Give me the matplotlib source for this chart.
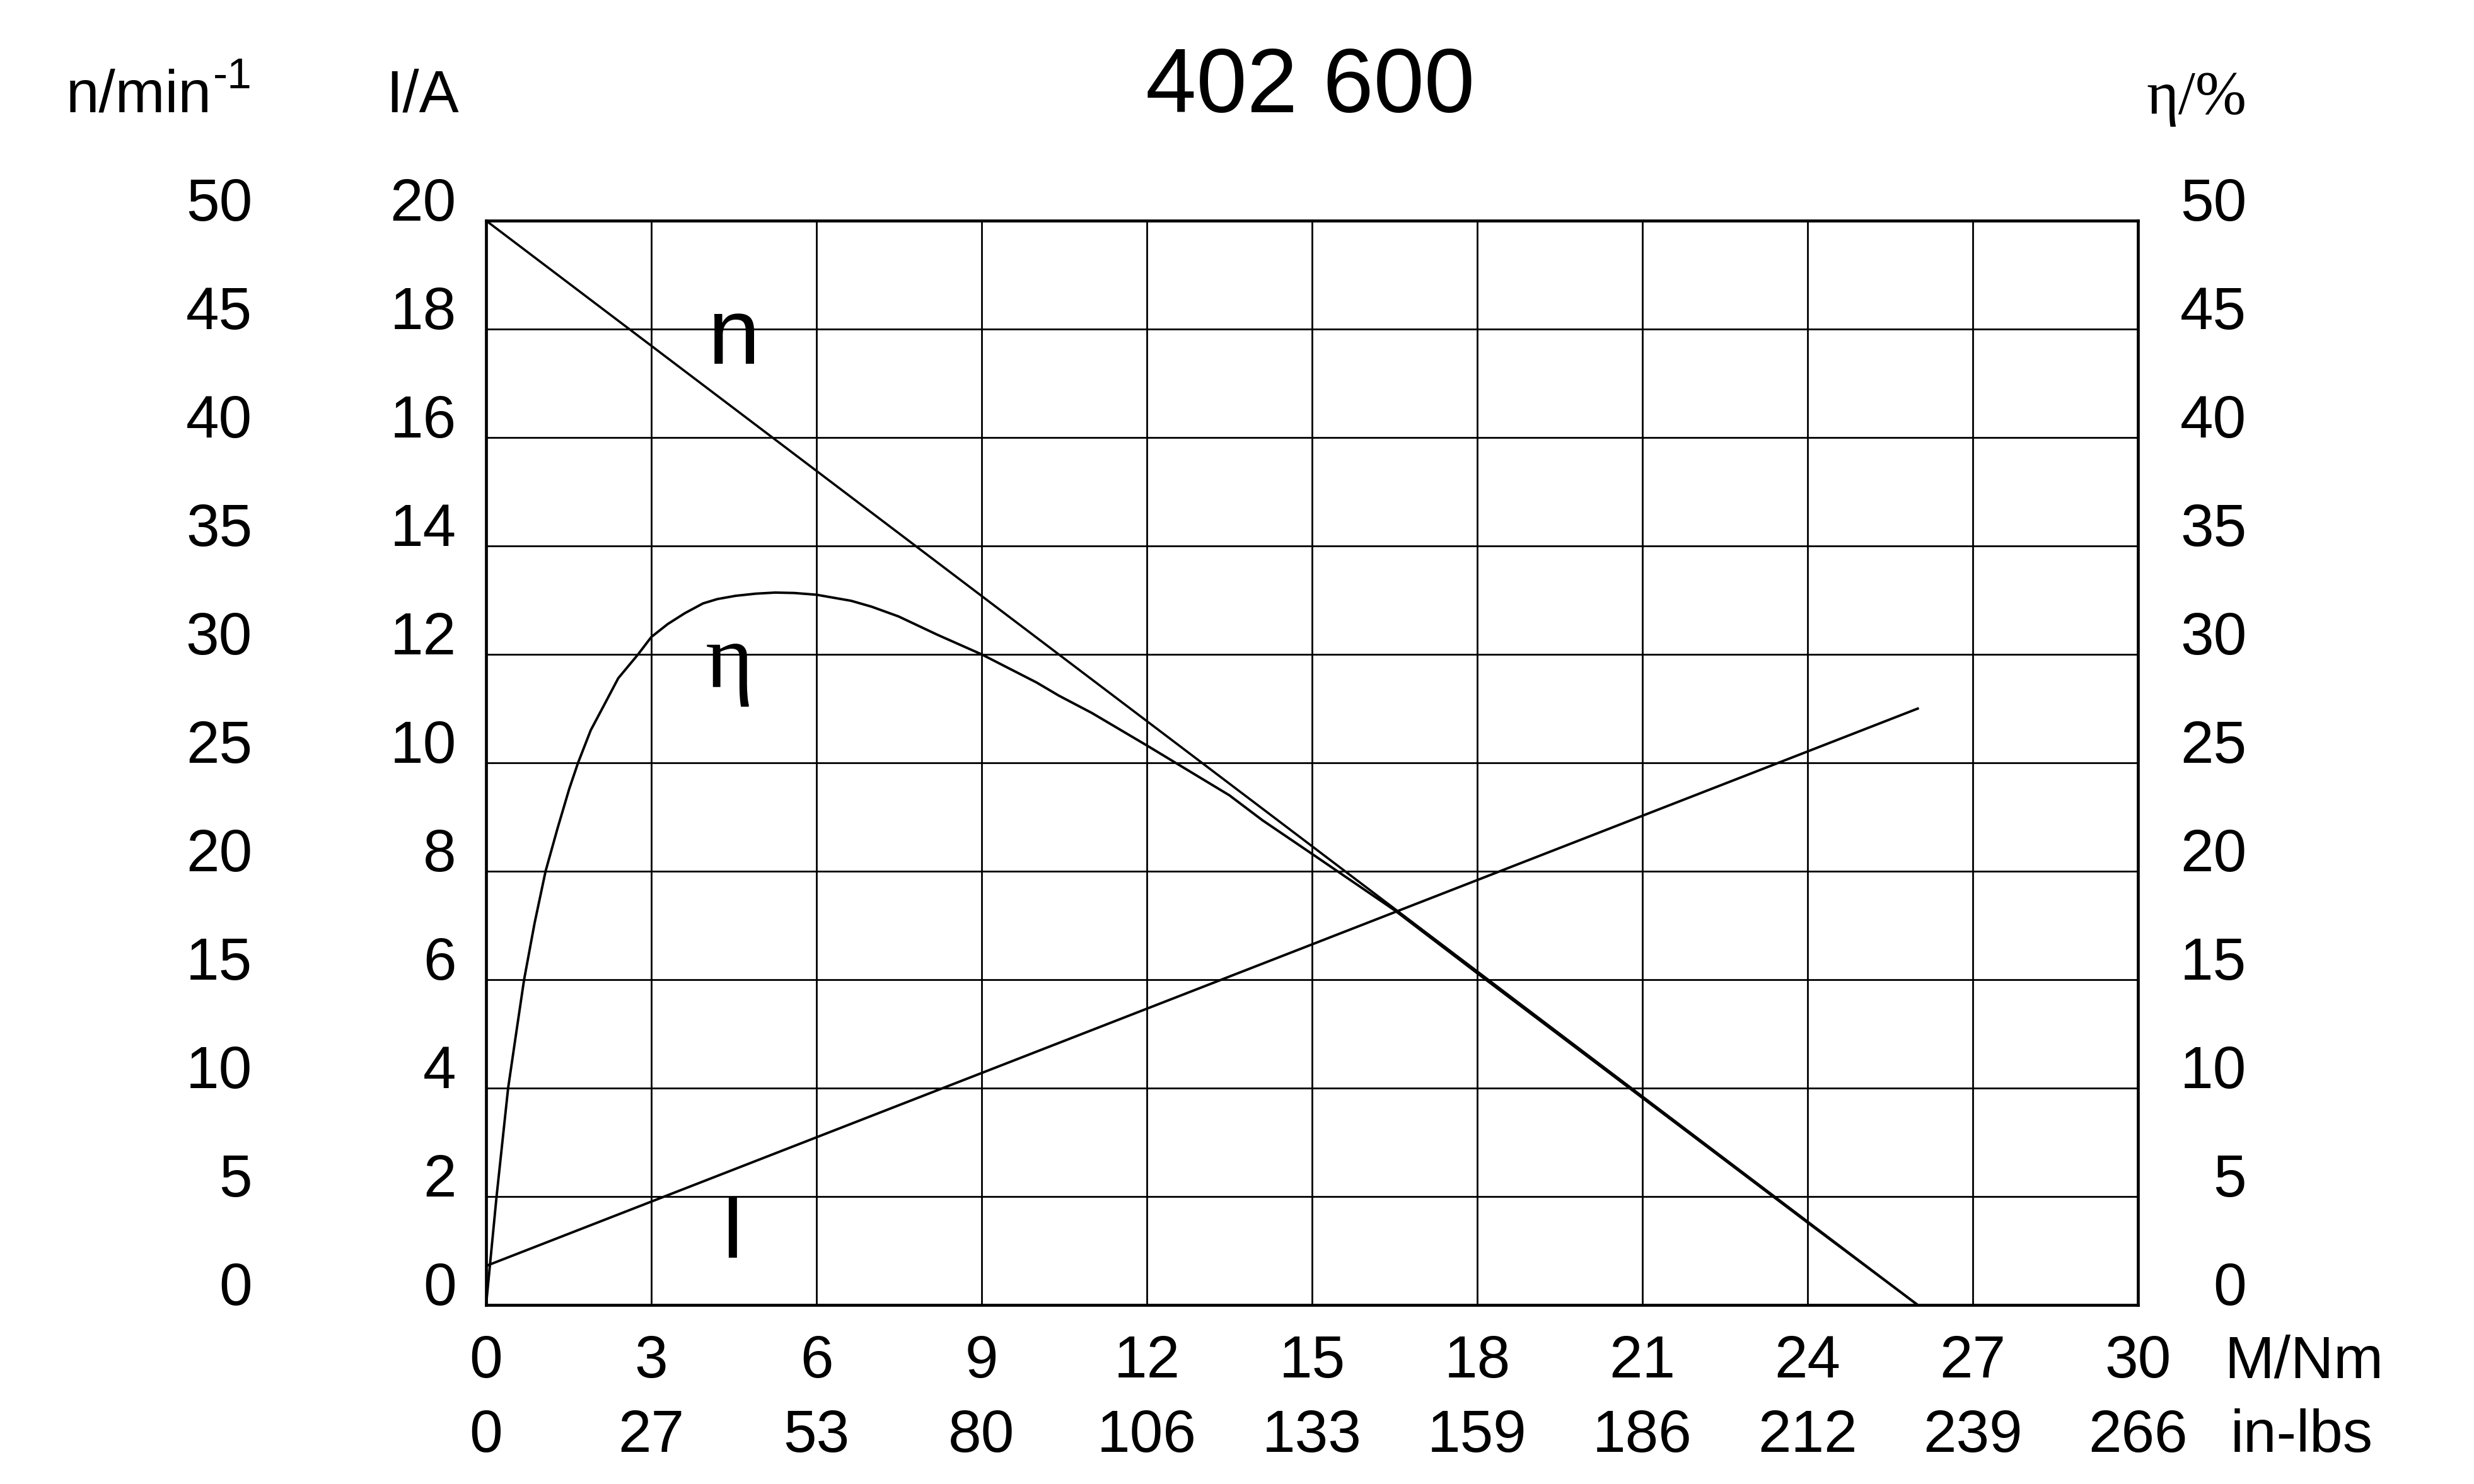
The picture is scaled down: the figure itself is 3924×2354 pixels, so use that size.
import matplotlib.pyplot as plt

plt.rcParams['font.family'] = ['Liberation Sans', 'DejaVu Sans']

# torque axis (Nm) and the matching in-lbs labels
torque_ticks = [0, 3, 6, 9, 12, 15, 18, 21, 24, 27, 30]
inlbs_labels = ["0", "27", "53", "80", "106", "133", "159", "186", "212", "239", "266"]
speed_ticks = [0, 5, 10, 15, 20, 25, 30, 35, 40, 45, 50]
current_ticks = [0, 2, 4, 6, 8, 10, 12, 14, 16, 18, 20]
eff_ticks = [0, 5, 10, 15, 20, 25, 30, 35, 40, 45, 50]

# speed line n (0..50 scale)
n_M = [0, 26]
n_vals = [50, 0]

# current line I (A)
I_M = [0, 26]
I_vals = [0.72, 11.0]

# efficiency curve eta (%)
eta_M = [0, 0.19, 0.40, 0.55, 0.69, 0.88, 1.08, 1.3, 1.51, 1.67, 1.9, 2.13,
         2.4, 2.76, 3.0, 3.3, 3.61, 3.94, 4.2, 4.53, 4.9, 5.25, 5.6, 6.0,
         6.63, 7.0, 7.49, 8.2, 9.0, 10.0, 10.4, 11.0, 12.0, 13.5, 14.1,
         15.0, 16.5, 18.0, 21.0, 24.0, 26.0]
eta_vals = [0, 5, 10, 12.6, 15, 17.6, 20, 22.0, 23.8, 25.0, 26.5, 27.6,
            28.9, 30.0, 30.8, 31.4, 31.9, 32.35, 32.55, 32.7, 32.8, 32.85, 32.83, 32.75,
            32.47, 32.2, 31.75, 30.9, 30.0, 28.7, 28.1, 27.3, 25.8, 23.5, 22.35,
            20.8, 18.2, 15.3, 9.55, 3.8, 0]

W, H = 3924, 2354
fig = plt.figure(figsize=(W / 100, H / 100), dpi=100)
ax = fig.add_axes([771 / W, 1 - 2070 / H, 2620 / W, 1720 / H])

ax.set_xlim(0, 30)
ax.set_ylim(0, 50)
ax.set_xticks(torque_ticks, [str(t) for t in torque_ticks])
ax.set_yticks(speed_ticks, [str(t) for t in speed_ticks])
ax.grid(True, color="black", linewidth=2.0)
ax.set_axisbelow(True)
for s in ax.spines.values():
    s.set_linewidth(3.4)
ax.tick_params(axis="both", length=0, labelsize=68)
ax.tick_params(axis="y", pad=267)
ax.tick_params(axis="x", pad=33)
for lab in ax.get_yticklabels():
    lab.set_va("baseline")

# second row of x labels (in-lbs)
sec_x = ax.secondary_xaxis("bottom")
sec_x.set_xticks(torque_ticks, inlbs_labels)
sec_x.tick_params(length=0, labelsize=68, pad=118)
sec_x.spines["bottom"].set_visible(False)

# efficiency scale on the right
sec_eta = ax.secondary_yaxis("right")
sec_eta.set_yticks(eff_ticks, [str(t) for t in eff_ticks])
sec_eta.tick_params(length=0, labelsize=68, pad=124)
for lab in sec_eta.get_yticklabels():
    lab.set_ha("right")
    lab.set_va("baseline")
sec_eta.spines["right"].set_visible(False)

# current axis, labels on the left next to the frame
ax_I = ax.twinx()
ax_I.set_ylim(0, 20)
ax_I.yaxis.set_ticks_position("left")
ax_I.set_yticks(current_ticks, [str(t) for t in current_ticks])
ax_I.tick_params(length=0, labelsize=68, pad=34)
for lab in ax_I.get_yticklabels():
    lab.set_va("baseline")
for s in ax_I.spines.values():
    s.set_visible(False)

ax.plot(n_M, n_vals, color="black", linewidth=2.6)
ax.plot(eta_M, eta_vals, color="black", linewidth=2.8, solid_joinstyle="round")
ax_I.plot(I_M, I_vals, color="black", linewidth=2.8)

# curve names
ax.text(4.49, 43.4, "n", fontsize=107, ha="center", va="baseline")
ax.text(4.42, 28.5, "η", fontsize=105, ha="center", va="baseline",
        family=["Liberation Serif", "DejaVu Serif"])
ax.text(4.47, 2.18, "I", fontsize=100, ha="center", va="baseline")

# headers
fig.text(2078 / W, 1 - 178 / H, "402 600", fontsize=104, ha="center", va="baseline")
fig.text(105 / W, 1 - 178 / H, "n/min", fontsize=68, ha="left", va="baseline")
fig.text(338 / W, 1 - 140 / H, "-1", fontsize=50, ha="left", va="baseline")
fig.text(612 / W, 1 - 178 / H, "I/A", fontsize=68, ha="left", va="baseline")
fig.text(3563 / W, 1 - 180 / H, "η/%", fontsize=70, ha="right", va="baseline",
         family=["Liberation Serif", "DejaVu Serif"])
fig.text(3528 / W, 1 - 2186 / H, "M/Nm", fontsize=68, ha="left", va="baseline")
fig.text(3538 / W, 1 - 2303 / H, "in-lbs", fontsize=68, ha="left", va="baseline")

fig.savefig("out.png", dpi=100, facecolor="white")
